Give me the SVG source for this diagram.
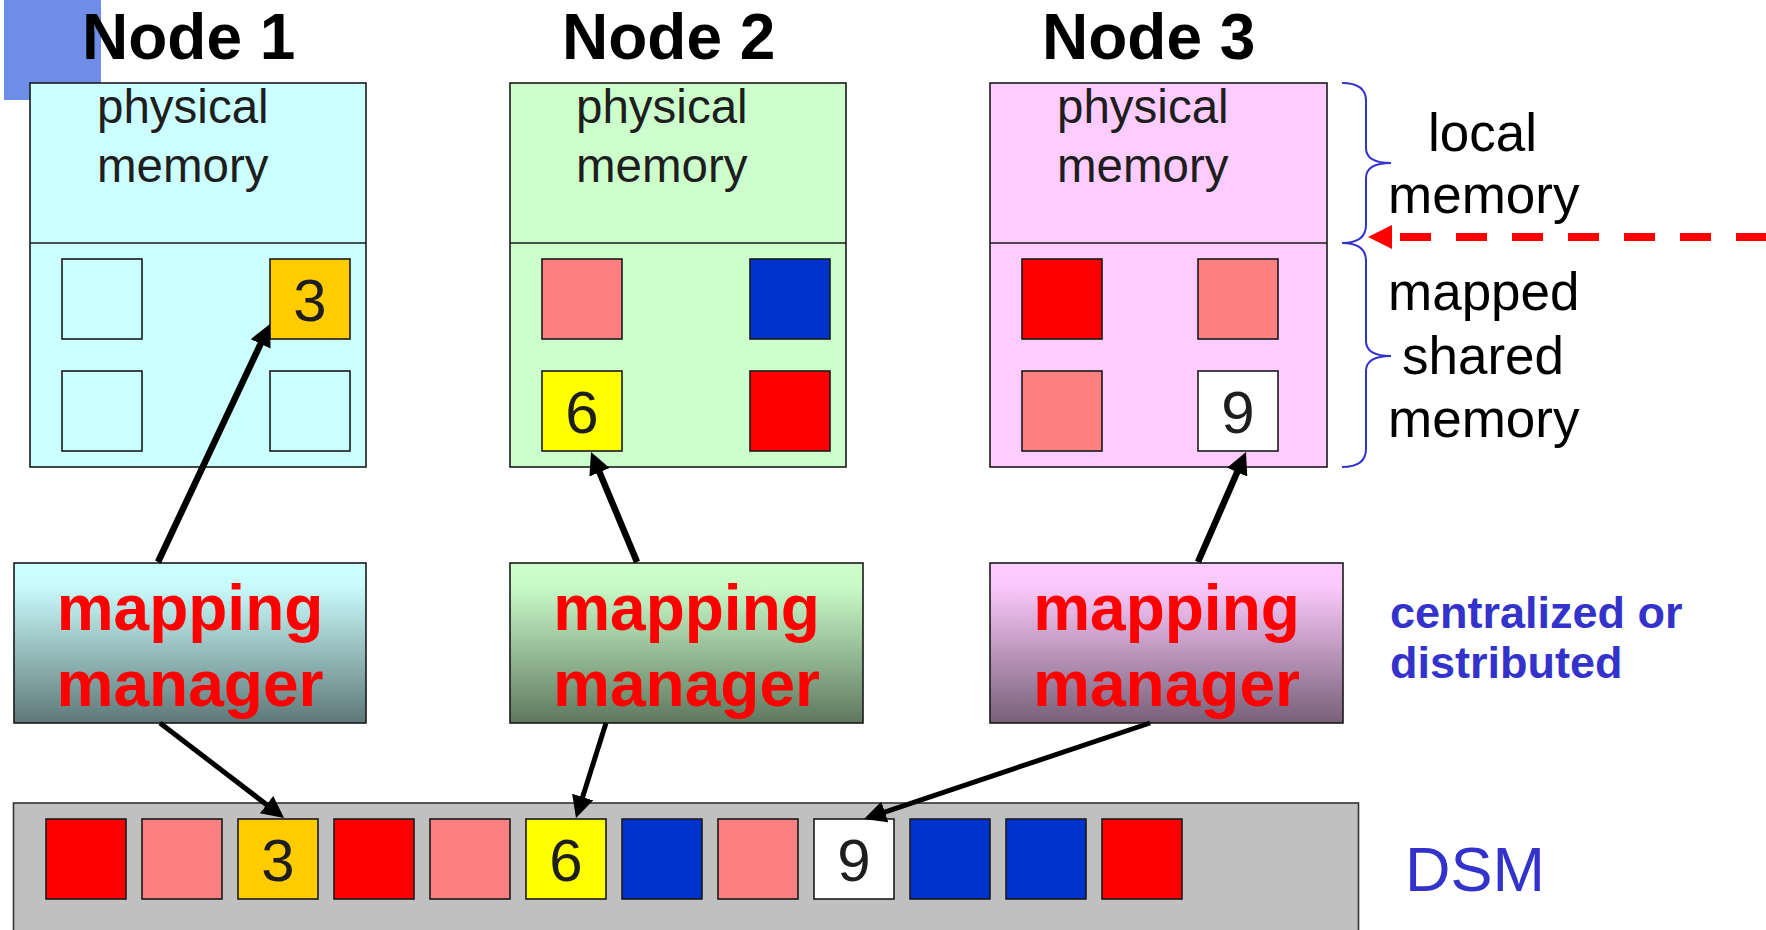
<svg xmlns="http://www.w3.org/2000/svg" width="1766" height="930" viewBox="0 0 1766 930">
  <style>
    text { font-family: "Liberation Sans", Arial, sans-serif; }
    .title { font-size: 64px; font-weight: bold; fill: #000; }
    .phys { font-size: 47.5px; fill: #1e1e1e; }
    .digit { font-size: 60px; fill: #1e1e1e; text-anchor: middle; }
    .mm { font-size: 64px; font-weight: bold; fill: #ff0000; text-anchor: middle; }
    .side { font-size: 53px; fill: #000; }
    .note { font-size: 45px; font-weight: bold; fill: #3333cc; }
    .dsmlabel { font-size: 63px; fill: #3333cc; }
    .box { stroke: #1a1a1a; stroke-width: 1.6; }
    .sq { stroke: #1a1a1a; stroke-width: 1.6; }
    .red { fill: #ff0000; }
    .pink { fill: #ff8080; }
    .blue { fill: #0033cc; }
    .orange { fill: #ffcc00; }
    .yellow { fill: #ffff00; }
    .white { fill: #ffffff; }
    .arrow { stroke: #000; fill: none; stroke-linecap: butt; marker-end: url(#head); }
    .brace { stroke: #3333cc; stroke-width: 2; fill: none; }
  </style>
  <defs>
    <linearGradient id="gCyan" x1="0" y1="0" x2="0" y2="1">
      <stop offset="0" stop-color="#ccffff"/>
      <stop offset="0.15" stop-color="#c8fafa"/>
      <stop offset="1" stop-color="#5f7878"/>
    </linearGradient>
    <linearGradient id="gGreen" x1="0" y1="0" x2="0" y2="1">
      <stop offset="0" stop-color="#ccffcc"/>
      <stop offset="0.15" stop-color="#c8fac8"/>
      <stop offset="1" stop-color="#5f785f"/>
    </linearGradient>
    <linearGradient id="gPink" x1="0" y1="0" x2="0" y2="1">
      <stop offset="0" stop-color="#ffccff"/>
      <stop offset="0.15" stop-color="#fac8fa"/>
      <stop offset="1" stop-color="#786078"/>
    </linearGradient>
    <marker id="head" viewBox="0 0 22 22" refX="12" refY="11" markerWidth="22" markerHeight="22" markerUnits="userSpaceOnUse" orient="auto">
      <path d="M0,0 L22,11 L0,22 z" fill="#000"/>
    </marker>
    <marker id="redhead" viewBox="0 0 24 24" refX="0" refY="12" markerWidth="24" markerHeight="24" markerUnits="userSpaceOnUse" orient="auto">
      <path d="M0,0 L24,12 L0,24 z" fill="#ff0000"/>
    </marker>
  </defs>

  <rect width="1766" height="930" fill="#ffffff"/>

  <!-- corner accent -->
  <rect x="4" y="0" width="97" height="100" fill="#6e8de6"/>

  <!-- Node 1 -->
  <g id="node1">
    <text class="title" x="82" y="59">Node 1</text>
    <rect class="box" x="30" y="83" width="336" height="384" fill="#ccffff"/>
    <line class="box" x1="30" y1="243" x2="366" y2="243"/>
    <text class="phys" x="97" y="123">physical</text>
    <text class="phys" x="97" y="182">memory</text>
    <rect class="sq" x="62" y="259" width="80" height="80" fill="#ccffff"/>
    <rect class="sq orange" x="270" y="259" width="80" height="80"/>
    <text class="digit" x="310" y="321">3</text>
    <rect class="sq" x="62" y="371" width="80" height="80" fill="#ccffff"/>
    <rect class="sq" x="270" y="371" width="80" height="80" fill="#ccffff"/>
  </g>

  <!-- Node 2 -->
  <g id="node2">
    <text class="title" x="562" y="59">Node 2</text>
    <rect class="box" x="510" y="83" width="336" height="384" fill="#ccffcc"/>
    <line class="box" x1="510" y1="243" x2="846" y2="243"/>
    <text class="phys" x="576" y="123">physical</text>
    <text class="phys" x="576" y="182">memory</text>
    <rect class="sq pink" x="542" y="259" width="80" height="80"/>
    <rect class="sq blue" x="750" y="259" width="80" height="80"/>
    <rect class="sq yellow" x="542" y="371" width="80" height="80"/>
    <text class="digit" x="582" y="433">6</text>
    <rect class="sq red" x="750" y="371" width="80" height="80"/>
  </g>

  <!-- Node 3 -->
  <g id="node3">
    <text class="title" x="1042" y="59">Node 3</text>
    <rect class="box" x="990" y="83" width="337" height="384" fill="#ffccff"/>
    <line class="box" x1="990" y1="243" x2="1327" y2="243"/>
    <text class="phys" x="1057" y="123">physical</text>
    <text class="phys" x="1057" y="182">memory</text>
    <rect class="sq red" x="1022" y="259" width="80" height="80"/>
    <rect class="sq pink" x="1198" y="259" width="80" height="80"/>
    <rect class="sq pink" x="1022" y="371" width="80" height="80"/>
    <rect class="sq white" x="1198" y="371" width="80" height="80"/>
    <text class="digit" x="1238" y="433">9</text>
  </g>

  <!-- memory region braces and labels -->
  <g id="regions">
    <path class="brace" d="M1342,83 C1358,83 1366,89 1366,101 L1366,148 C1366,158 1374,163 1391,163 C1374,163 1366,168 1366,178 L1366,225 C1366,237 1358,243 1342,243"/>
    <path class="brace" d="M1342,243 C1358,243 1366,249 1366,261 L1366,341 C1366,351 1374,356 1391,356 C1374,356 1366,361 1366,371 L1366,449 C1366,461 1358,467 1342,467"/>
    <text class="side" x="1428" y="151">local</text>
    <text class="side" x="1388" y="213">memory</text>
    <text class="side" x="1388" y="310">mapped</text>
    <text class="side" x="1402" y="374">shared</text>
    <text class="side" x="1388" y="437">memory</text>
  </g>

  <!-- Mapping managers -->
  <g id="mm1">
    <rect class="box" x="14" y="563" width="352" height="160" fill="url(#gCyan)"/>
    <text class="mm" x="190" y="630">mapping</text>
    <text class="mm" x="190" y="706">manager</text>
  </g>
  <g id="mm2">
    <rect class="box" x="510" y="563" width="353" height="160" fill="url(#gGreen)"/>
    <text class="mm" x="686.5" y="630">mapping</text>
    <text class="mm" x="686.5" y="706">manager</text>
  </g>
  <g id="mm3">
    <rect class="box" x="990" y="563" width="353" height="160" fill="url(#gPink)"/>
    <text class="mm" x="1166.5" y="630">mapping</text>
    <text class="mm" x="1166.5" y="706">manager</text>
  </g>
  <g id="mm-note">
    <text class="note" x="1390" y="628">centralized or</text>
    <text class="note" x="1390" y="678">distributed</text>
  </g>

  <!-- Distributed shared memory strip -->
  <g id="dsm">
    <rect x="13.5" y="803" width="1345" height="140" fill="#c0c0c0" stroke="#333" stroke-width="1.6"/>
    <rect class="sq red" x="46" y="819" width="80" height="80"/>
    <rect class="sq pink" x="142" y="819" width="80" height="80"/>
    <rect class="sq orange" x="238" y="819" width="80" height="80"/>
    <text class="digit" x="278" y="881">3</text>
    <rect class="sq red" x="334" y="819" width="80" height="80"/>
    <rect class="sq pink" x="430" y="819" width="80" height="80"/>
    <rect class="sq yellow" x="526" y="819" width="80" height="80"/>
    <text class="digit" x="566" y="881">6</text>
    <rect class="sq blue" x="622" y="819" width="80" height="80"/>
    <rect class="sq pink" x="718" y="819" width="80" height="80"/>
    <rect class="sq white" x="814" y="819" width="80" height="80"/>
    <text class="digit" x="854" y="881">9</text>
    <rect class="sq blue" x="910" y="819" width="80" height="80"/>
    <rect class="sq blue" x="1006" y="819" width="80" height="80"/>
    <rect class="sq red" x="1102" y="819" width="80" height="80"/>
    <text class="dsmlabel" x="1405" y="891">DSM</text>
  </g>

  <!-- Connectors -->
  <g id="connectors">
    <line class="arrow" stroke-width="6.5" x1="158" y1="562" x2="265.7" y2="333"/>
    <line class="arrow" stroke-width="6.5" x1="637" y1="562" x2="594.9" y2="461.2"/>
    <line class="arrow" stroke-width="6.5" x1="1198" y1="562" x2="1242" y2="461.2"/>
    <line class="arrow" stroke-width="5" x1="160" y1="723" x2="276.1" y2="811.9"/>
    <line class="arrow" stroke-width="5" x1="606" y1="723" x2="579" y2="808.5"/>
    <line class="arrow" stroke-width="5" x1="1150" y1="723" x2="873.5" y2="815.8"/>
    <path d="M1767,237 H1392" stroke="#ff0000" stroke-width="8" fill="none" stroke-dasharray="31 25" marker-end="url(#redhead)"/>
  </g>
</svg>
